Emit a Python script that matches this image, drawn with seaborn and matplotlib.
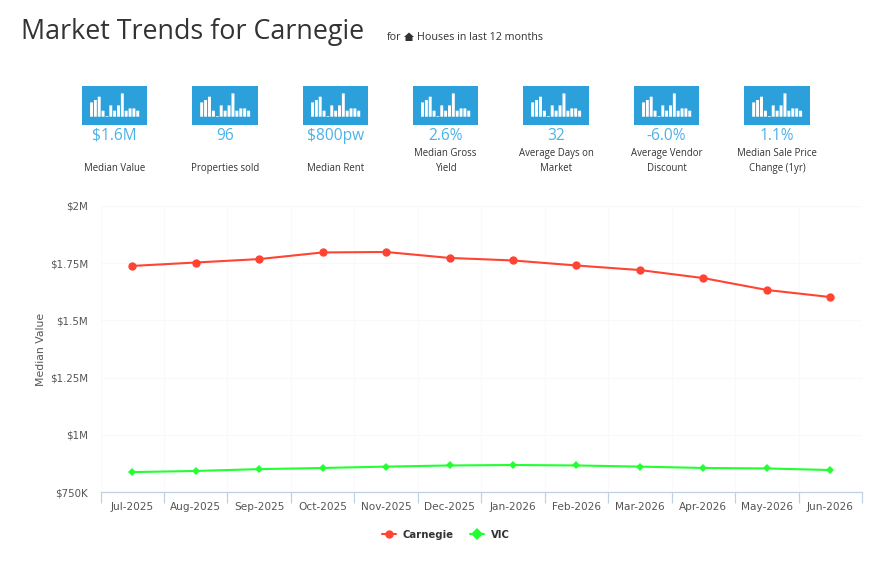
"""Market trends panel for Carnegie: KPI tiles above a median value line chart."""
import matplotlib
matplotlib.use("Agg")
import matplotlib.pyplot as plt
from matplotlib.patches import Polygon
import pandas as pd
import seaborn as sns

W, H = 894, 563

months = ["Jul-2025", "Aug-2025", "Sep-2025", "Oct-2025", "Nov-2025", "Dec-2025",
          "Jan-2026", "Feb-2026", "Mar-2026", "Apr-2026", "May-2026", "Jun-2026"]
carnegie = [1738, 1753, 1768, 1797, 1799, 1773, 1762, 1740, 1720, 1685, 1633, 1602]
vic = [837, 842, 850, 855, 861, 866, 868, 866, 861, 855, 853, 846]

y_ticks = [750, 1000, 1250, 1500, 1750, 2000]
y_labels = ["$750K", "$1M", "$1.25M", "$1.5M", "$1.75M", "$2M"]

kpi_values = ["$1.6M", "96", "$800pw", "2.6%", "32", "-6.0%", "1.1%"]
kpi_labels = ["Median Value", "Properties sold", "Median Rent", "Median Gross\nYield",
              "Average Days on\nMarket", "Average Vendor\nDiscount", "Median Sale Price\nChange (1yr)"]
kpi_left = [82, 192, 303, 413, 523, 634, 744]
kpi_right = [147, 258, 368, 478, 589, 699, 810]
icon_bars = [14.3, 16.7, 20, 6, 0.7, 11.3, 6, 11.3, 23.3, 6, 8.3, 8.3, 6]
house_outline = [(404, 37), (409, 32.5), (414, 37), (412.5, 37), (412.5, 41), (405.5, 41), (405.5, 37)]

TEXT = "#333333"
BLUE = "#2ba0da"
VALUE_BLUE = "#4db2e8"
RED = "#ff4433"
GREEN = "#22ff33"


def px_axes(fig, left, top, right, bottom):
    """Axes placed by pixel box, y measured from the top of the figure."""
    return fig.add_axes([left / W, 1 - bottom / H, (right - left) / W, (bottom - top) / H])


def draw_icon(fig, left, right):
    ax = px_axes(fig, left, 86, right, 125)
    sns.barplot(x=list(range(len(icon_bars))), y=icon_bars, color="white", saturation=1,
                width=0.76, ax=ax)
    for bar in ax.patches:
        bar.set_snap(False)
        bar.set_linewidth(0)
    ax.set_xlim(-2.47, 14.4)
    ax.set_ylim(-8.3, 30.7)
    ax.set_axis_off()
    ax.add_patch(plt.Rectangle((0, 0), 1, 1, transform=ax.transAxes, color=BLUE, zorder=0))


sns.set_theme(style="white")
plt.rcParams["font.family"] = ["Open Sans", "DejaVu Sans"]

fig = plt.figure(figsize=(W / 100, H / 100), dpi=100)

fig.text(21 / W, 1 - 32.5 / H, "Market Trends for Carnegie", fontsize=19.4, color=TEXT, va="center")
fig.text(387 / W, 1 - 37 / H, "for", fontsize=7.75, color=TEXT, va="center")
fig.text(417 / W, 1 - 37 / H, "Houses in last 12 months", fontsize=7.75, color=TEXT, va="center")
fig.add_artist(Polygon([(x / W, 1 - y / H) for x, y in house_outline],
                       closed=True, color=TEXT, lw=0, transform=fig.transFigure))

for i, value in enumerate(kpi_values):
    draw_icon(fig, kpi_left[i], kpi_right[i])
    cx = (kpi_left[i] + kpi_right[i]) / 2 / W
    fig.text(cx, 1 - 135.5 / H, value, fontsize=11.2, color=VALUE_BLUE, ha="center", va="center")
    # one-line labels sit on the second row
    label = kpi_labels[i] if "\n" in kpi_labels[i] else "\n" + kpi_labels[i]
    fig.text(cx, 1 - 148 / H, label, fontsize=6.9, color=TEXT, ha="center", va="top", linespacing=1.5)

df = pd.DataFrame({"month": months * 2,
                   "value": carnegie + vic,
                   "area": ["Carnegie"] * 12 + ["VIC"] * 12})

ax = px_axes(fig, 100.5, 206, 862, 492)
sns.lineplot(data=df, x="month", y="value", hue="area", style="area",
             palette={"Carnegie": RED, "VIC": GREEN},
             markers={"Carnegie": "o", "VIC": "D"}, dashes=False, sort=False,
             linewidth=1.5, markeredgewidth=0, ax=ax)
for line, size in zip(ax.get_lines()[:2], (6, 4.4)):
    line.set_markersize(size)

ax.set_xlim(-0.5, 11.5)
ax.set_ylim(750, 2000)
ax.set_yticks(y_ticks, y_labels)
ax.set_xticks(range(len(months)), months)
ax.set_xticks([i - 0.5 for i in range(len(months) + 1)], minor=True)
ax.tick_params(axis="x", which="major", length=0, pad=7, labelsize=7.6, labelcolor="#555555")
ax.tick_params(axis="x", which="minor", length=8, width=0.9, color="#c0d0e0", bottom=True)
ax.tick_params(axis="y", length=0, pad=9, labelsize=7.4, labelcolor="#555555")
for lab in ax.get_xticklabels() + ax.get_yticklabels():
    lab.set_family("DejaVu Sans")
ax.grid(True, axis="y", color="#f9f9f9", lw=0.9)
ax.grid(True, axis="x", which="minor", color="#fafafa", lw=0.9)
ax.set_axisbelow(True)
ax.set_xlabel("")
ax.set_ylabel("Median Value", fontsize=7.8, color="#555555", family="DejaVu Sans")
ax.yaxis.set_label_coords((45.5 - 100.5) / (862 - 100.5), 0.5)
sns.despine(ax=ax, left=True)
ax.spines["bottom"].set_color("#c0d0e0")
ax.spines["bottom"].set_linewidth(0.9)

handles, labels = ax.get_legend_handles_labels()
ax.legend_.remove()
fig.legend(handles, labels, loc="center", bbox_to_anchor=(446 / W, 1 - 534.5 / H), ncol=2,
           frameon=False, handlelength=1.3, handletextpad=0.7, columnspacing=1.65,
           prop={"family": "DejaVu Sans", "weight": "bold", "size": 7.3}, labelcolor=TEXT)

fig.savefig("out.png", dpi=100)
